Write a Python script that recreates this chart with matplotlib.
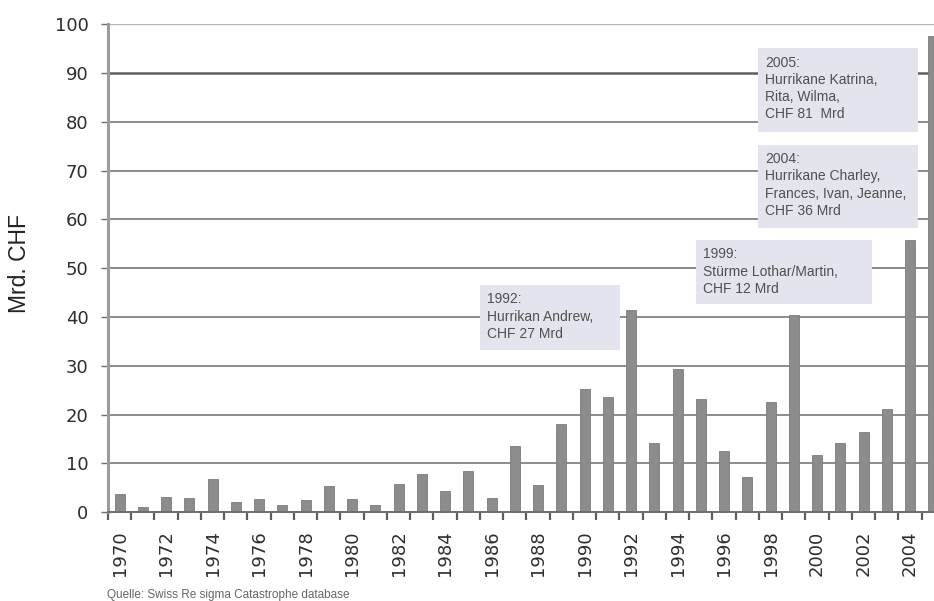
import matplotlib

matplotlib.use("Agg")
import matplotlib.pyplot as plt
from matplotlib.patches import Rectangle
from matplotlib.ticker import FixedLocator, NullFormatter

# Jährliche versicherte Katastrophenschäden, Mrd. CHF
years = list(range(1970, 2006))
losses = [
    3.8, 1.0, 3.2, 3.0, 6.8, 2.2, 2.8, 1.4, 2.6, 5.3,
    2.7, 1.5, 5.9, 7.8, 4.3, 8.4, 3.0, 13.5, 5.6, 18.0,
    25.3, 23.6, 41.5, 14.2, 29.4, 23.2, 12.5, 7.2, 22.6, 40.5,
    11.7, 14.3, 16.4, 21.2, 55.8, 97.5,
]
y_ticks = list(range(0, 101, 10))
year_labels = [str(y) for y in range(1970, 2005, 2)]

notes = [
    "1992:\nHurrikan Andrew,\nCHF 27 Mrd",
    "1999:\nStürme Lothar/Martin,\nCHF 12 Mrd",
    "2004:\nHurrikane Charley,\nFrances, Ivan, Jeanne,\nCHF 36 Mrd",
    "2005:\nHurrikane Katrina,\nRita, Wilma,\nCHF 81  Mrd",
]
# box extents in data units: (x0, x1, y0, y1)
note_boxes = [
    (1985.52, 1991.52, 33.3, 46.6),
    (1994.78, 2002.37, 42.7, 55.8),
    (1997.46, 2004.35, 58.3, 75.3),
    (1997.46, 2004.35, 78.0, 95.1),
]

plt.rcParams["font.family"] = ["Liberation Sans", "DejaVu Sans"]

fig = plt.figure(figsize=(9.34, 6.01), dpi=100)
ax = fig.add_axes([108 / 934, 88.7 / 601, 1 - 108 / 934, (512.3 - 24.3) / 601])

ax.set_xlim(1969.5, 2005.03)
ax.set_ylim(0, 100)

for val in y_ticks[1:]:
    if val == 90:
        ax.axhline(val, color="#5e5e5e", lw=1.8, zorder=1)
    elif val == 100:
        ax.axhline(val, color="#b4b4b4", lw=1.0, zorder=1)
    else:
        ax.axhline(val, color="#6e6e6e", lw=1.1, zorder=1)

ax.bar(years, losses, width=0.43, color="#8c8c8c", edgecolor="#7c7c7c",
       linewidth=0.6, zorder=3)

for text, (x0, x1, y0, y1) in zip(notes, note_boxes):
    ax.add_patch(Rectangle((x0, y0), x1 - x0, y1 - y0, facecolor="#e4e4ef",
                           edgecolor="none", zorder=2))
    ax.text(x0 + 0.3, y1 - 1.5, text, ha="left", va="top", fontsize=10,
            color="#505050", linespacing=1.3, zorder=4)

for side in ("top", "right"):
    ax.spines[side].set_visible(False)
ax.spines["left"].set_color("#9c9c9c")
ax.spines["left"].set_linewidth(2.2)
ax.spines["bottom"].set_color("#6e6e6e")
ax.spines["bottom"].set_linewidth(1.4)
ax.spines["bottom"].set_zorder(5)

ax.set_yticks(y_ticks)
ax.set_yticklabels([str(v) for v in y_ticks], fontsize=13, color="#2e2e2e",
                   family=["DejaVu Sans"])
ax.tick_params(axis="y", length=5, width=1.0, color="#6e6e6e", pad=9)

ax.set_xticks(list(range(1970, 2005, 2)))
ax.set_xticklabels(year_labels, rotation=90, fontsize=13, color="#2e2e2e",
                   family=["DejaVu Sans"])
ax.tick_params(axis="x", which="major", length=0, pad=13)
ax.xaxis.set_minor_locator(FixedLocator([y - 0.5 for y in years] + [2005.5]))
ax.xaxis.set_minor_formatter(NullFormatter())
ax.tick_params(axis="x", which="minor", length=6, width=1.6, color="#5e5e5e")

fig.text(20 / 934, 1 - 263 / 601, "Mrd. CHF", rotation=90, ha="center",
         va="center", fontsize=16.5, color="#222222")
fig.text(107 / 934, 1 - 595 / 601, "Quelle: Swiss Re sigma Catastrophe database",
         ha="left", va="center", fontsize=8.5, color="#666666")

fig.savefig("out.png", dpi=100, facecolor="white")
